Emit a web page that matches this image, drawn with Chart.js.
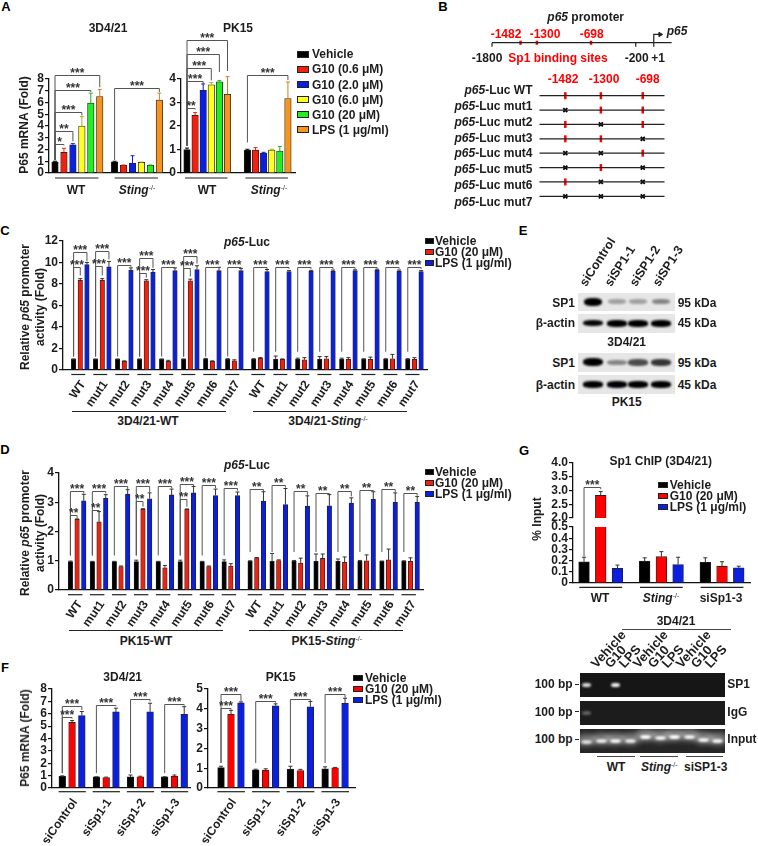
<!DOCTYPE html>
<html>
<head>
<meta charset="utf-8">
<script src="https://cdn.jsdelivr.net/npm/chart.js@4"></script>
<style>
html, body { margin: 0; background: #fff; }
#page { position: relative; width: 758px; height: 846px; overflow: hidden; background: #fff;
  font: bold 12px 'Liberation Sans', Arial, sans-serif; color: #1c1c1c; }
#page canvas { position: absolute; }
.t { position: absolute; white-space: nowrap; transform: translate(-50%, -50%); line-height: 1; }
.t sup { font-size: 7px; line-height: 0; vertical-align: 4px; font-weight: normal; }
.rot { position: absolute; white-space: nowrap; transform-origin: 0 100%; line-height: 1; }
.box { position: absolute; }
</style>
</head>
<body>
<div id="page"></div>
<script>
const BLACK = '#000000', RED = '#f4200f', BLUE = '#0a1fe0', YELLOW = '#ffff22', GREEN = '#22ee22', ORANGE = '#f7941d';

// panel A, one row per treatment, columns WT / Sting-/-
const A_LEGEND = ['Vehicle', 'G10 (0.6 μM)', 'G10 (2.0 μM)', 'G10 (6.0 μM)', 'G10 (20  μM)', 'LPS (1 μg/ml)'];
const A1_VALUES = [[0.95, 0.95], [1.75, 0.65], [2.4, 0.85], [4.0, 0.9], [5.95, 0.65], [6.5, 6.2]];
const A1_ERRORS = [[0.05, 0.05], [0.35, 0.03], [0.1, 0.62], [0.8, 0.03], [0.85, 0.03], [0.6, 0.6]];
const A2_VALUES = [[1.0, 0.98], [2.45, 0.98], [3.52, 0.85], [3.75, 0.98], [3.88, 0.93], [3.35, 3.17]];
const A2_ERRORS = [[0.06, 0.03], [0.12, 0.1], [0.27, 0.03], [0.1, 0.03], [0.05, 0.2], [0.75, 0.7]];
// brackets: group, right bar, height, right end, left end, stars
const A1_BRACKETS = [[0, 5, 8.3, 7.3, 1.1, '***'], [0, 4, 7.06, 6.9, 1.1, '***'], [0, 3, 5.17, 4.9, 1.1, '***'],
  [0, 2, 3.56, 2.7, 1.1, '**'], [0, 1, 2.43, 2.35, 1.1, '*'], [1, 5, 7.23, 6.9, 1.1, '***']];
const A2_BRACKETS = [[0, 5, 5.65, 4.34, 1.15, '***'], [0, 4, 5.08, 4.3, 1.15, '***'], [0, 3, 4.48, 3.94, 1.15, '***'],
  [0, 2, 3.91, 3.73, 1.15, '***'], [0, 1, 2.78, 2.7, 1.15, '**'], [1, 5, 4.15, 3.95, 1.3, '***']];

// panels C and D, 8 constructs in WT then 8 in Sting-/-
const MUT_LABELS = ['WT', 'mut1', 'mut2', 'mut3', 'mut4', 'mut5', 'mut6', 'mut7',
  'WT', 'mut1', 'mut2', 'mut3', 'mut4', 'mut5', 'mut6', 'mut7'];
const TRIPLE_LEGEND = ['Vehicle', 'G10 (20 μM)', 'LPS (1 μg/ml)'];
const C_VEHICLE = [1, 1, 1, 1, 1, 1, 1.03, 1, 1, 1, 1, 1, 1, 1, 1, 1];
const C_G10 = [8.35, 8.35, 0.8, 8.3, 0.8, 8.3, 0.8, 0.85, 1.1, 1.0, 0.95, 1.05, 1.0, 1.0, 1.05, 1.0];
const C_LPS = [9.8, 9.6, 9.3, 9.1, 9.25, 9.35, 9.25, 9.25, 9.15, 9.15, 9.2, 9.2, 9.25, 9.3, 9.2, 9.15];
const C_VEHICLE_ERR = [0.03, 0.03, 0.03, 0.03, 0.03, 0.03, 0.05, 0.05, 0.05, 0.3, 0.1, 0.25, 0.1, 0.05, 0.05, 0.05];
const C_G10_ERR = [0.15, 0.15, 0.05, 0.1, 0.1, 0.15, 0.05, 0.1, 0.05, 0.03, 0.2, 0.2, 0.15, 0.2, 0.4, 0.15];
const C_LPS_ERR = [0.2, 0.5, 0.2, 0.25, 0.25, 0.35, 0.3, 0.2, 0.2, 0.1, 0.07, 0.1, 0.07, 0.07, 0.1, 0.1];
const C_BRACKETS = [[0, 2, 11.0, 10.1, 1.25, '***'], [0, 1, 9.55, 8.8, 1.25, '***'], [1, 2, 11.07, 10.3, 1.25, '***'],
  [1, 1, 9.67, 8.8, 1.25, '***'], [2, 2, 9.77, 9.6, 1.25, '***'], [3, 2, 10.4, 9.5, 1.25, '***'], [3, 1, 9.0, 8.6, 1.25, '***'],
  [4, 2, 9.6, 9.5, 1.25, '***'], [5, 2, 10.6, 9.9, 1.25, '***'], [5, 1, 9.45, 8.7, 1.25, '***'], [6, 2, 9.6, 9.5, 1.25, '***'],
  [7, 2, 9.55, 9.5, 1.25, '***'], [8, 2, 9.55, 9.4, 1.7, '***'], [9, 2, 9.55, 9.4, 1.7, '***'], [10, 2, 9.55, 9.4, 1.7, '***'],
  [11, 2, 9.55, 9.4, 1.7, '***'], [12, 2, 9.55, 9.4, 1.7, '***'], [13, 2, 9.55, 9.4, 1.7, '***'], [14, 2, 9.55, 9.4, 1.7, '***'],
  [15, 2, 9.55, 9.4, 1.7, '***']];
const D_VEHICLE = [0.97, 0.97, 0.97, 0.97, 0.97, 0.97, 0.97, 0.97, 0.98, 0.98, 0.98, 0.98, 0.98, 0.98, 0.98, 0.98];
const D_G10 = [2.42, 2.33, 0.8, 2.76, 0.76, 2.76, 0.8, 0.82, 1.1, 1.01, 0.92, 1.08, 0.95, 1.0, 1.03, 0.98];
const D_LPS = [3.05, 3.13, 3.28, 3.12, 3.25, 3.32, 3.23, 3.23, 3.04, 2.92, 2.87, 2.88, 2.97, 3.1, 3.0, 3.0];
const D_VEHICLE_ERR = [0.02, 0.01, 0.01, 0.05, 0.01, 0.05, 0.01, 0.06, 0.02, 0.27, 0.03, 0.25, 0.08, 0.03, 0.01, 0.02];
const D_G10_ERR = [0.01, 0.35, 0.02, 0.02, 0.08, 0.01, 0.02, 0.08, 0.01, 0.02, 0.17, 0.15, 0.18, 0.2, 0.37, 0.12];
const D_LPS_ERR = [0.22, 0.13, 0.15, 0.2, 0.2, 0.22, 0.22, 0.12, 0.32, 0.55, 0.35, 0.38, 0.18, 0.26, 0.32, 0.2];
const D_BRACKETS = [[0, 2, 3.37, 3.3, 1.18, '***'], [0, 1, 2.57, 2.45, 1.18, '**'], [1, 2, 3.37, 3.3, 1.18, '***'],
  [1, 1, 2.72, 2.7, 1.18, '**'], [2, 2, 3.57, 3.45, 1.18, '***'], [3, 2, 3.57, 3.35, 1.18, '***'], [3, 1, 3.04, 2.85, 1.18, '**'],
  [4, 2, 3.57, 3.48, 1.18, '***'], [5, 2, 3.63, 3.55, 1.18, '***'], [5, 1, 3.12, 2.85, 1.18, '**'], [6, 2, 3.58, 3.48, 1.18, '***'],
  [7, 2, 3.49, 3.4, 1.18, '***'], [8, 2, 3.44, 3.38, 1.3, '**'], [9, 2, 3.6, 3.5, 1.3, '**'], [10, 2, 3.39, 3.25, 1.3, '**'],
  [11, 2, 3.33, 3.28, 1.3, '**'], [12, 2, 3.38, 3.2, 1.3, '**'], [13, 2, 3.43, 3.38, 1.3, '**'], [14, 2, 3.46, 3.35, 1.3, '**'],
  [15, 2, 3.33, 3.23, 1.3, '**']];

// panel F
const F_LABELS = ['siControl', 'siSp1-1', 'siSp1-2', 'siSp1-3'];
const F1_VEHICLE = [0.95, 0.9, 0.9, 0.9], F1_G10 = [5.3, 0.85, 0.9, 0.95], F1_LPS = [5.85, 6.15, 6.15, 5.95];
const F1_VEHICLE_ERR = [0.03, 0.01, 0.15, 0.01], F1_G10_ERR = [0.15, 0.03, 0.05, 0.1], F1_LPS_ERR = [0.33, 0.3, 0.7, 0.62];
const F2_VEHICLE = [1.03, 0.92, 0.95, 0.97], F2_G10 = [3.72, 0.9, 0.88, 1.02], F2_LPS = [4.3, 4.15, 4.1, 4.28];
const F2_VEHICLE_ERR = [0.07, 0.03, 0.15, 0.1], F2_G10_ERR = [0.2, 0.07, 0.06, 0.02], F2_LPS_ERR = [0.05, 0.1, 0.27, 0.25];
const F1_BRACKETS = [[0, 2, 6.66, 6.3, 1.2, '***'], [0, 1, 5.72, 5.6, 1.2, '***'], [1, 2, 6.68, 6.6, 1.2, '***'],
  [2, 2, 7.22, 7.0, 1.2, '***'], [3, 2, 6.77, 6.65, 1.2, '***']];
const F2_BRACKETS = [[0, 2, 4.73, 4.4, 1.26, '***'], [0, 1, 4.06, 3.95, 1.26, '***'], [1, 2, 4.41, 4.3, 1.26, '***'],
  [2, 2, 4.48, 4.4, 1.26, '***'], [3, 2, 4.75, 4.55, 1.26, '***']];

// panel G
const G_VEHICLE = [0.19, 0.195, 0.185], G_G10 = [2.82, 0.235, 0.15], G_LPS = [0.13, 0.165, 0.135];
const G_VEHICLE_ERR = [0.04, 0.03, 0.04], G_G10_ERR = [0.14, 0.045, 0.04], G_LPS_ERR = [0.03, 0.065, 0.015];
const G_BRACKETS = [[0, 1, 3.13, 3.05, 0.6, '***']];
const GEL_LANES = ['Vehicle', 'G10', 'LPS', 'Vehicle', 'G10', 'LPS', 'Vehicle', 'G10', 'LPS'];
const GEL_SP1 = [0.85, 0, 0.95, 0, 0, 0, 0, 0, 0, 0];
const GEL_IGG = [0.3, 0, 0, 0, 0, 0, 0, 0, 0, 0];
const GEL_INPUT = [0.85, 0.9, 0.95, 0.9, 1, 0.95, 1, 0.95, 0.95, 0.95];

// panel B, sites are in bp from the start site
const SP1_SITES = [-1482, -1300, -698];
const PROMOTER_TICKS = [-1800, -200];
const LUC_ROWS = ['WT', 'mut1', 'mut2', 'mut3', 'mut4', 'mut5', 'mut6', 'mut7'];
const LUC_INTACT = [[1, 1, 1], [0, 1, 1], [1, 0, 1], [1, 1, 0], [0, 0, 1], [0, 1, 0], [1, 0, 0], [0, 0, 0]];

// panel E, band strength per lane
const E_LANES = ['siControl', 'siSP1-1', 'siSP1-2', 'siSP1-3'];
const E_SP1_3D4 = [1, 0.18, 0.18, 0.3];
const E_ACTIN_3D4 = [0.85, 1, 0.95, 1];
const E_SP1_PK15 = [1, 0.3, 0.55, 0.65];
const E_ACTIN_PK15 = [0.9, 0.95, 1, 0.9];

Chart.defaults.font.family = "'Liberation Sans', Arial, sans-serif";
Chart.defaults.font.weight = 'bold';
Chart.defaults.font.size = 12;
Chart.defaults.color = '#1c1c1c';
Chart.defaults.animation = false;

const page = document.getElementById('page');

function txt(html, x, y, opts = {}) {
    const d = document.createElement('div');
    d.className = 't';
    d.innerHTML = html;
    d.style.left = x + 'px';
    d.style.top = y + 'px';
    if (opts.color) d.style.color = opts.color;
    if (opts.size) d.style.fontSize = opts.size + 'px';
    if (opts.rotate) d.style.transform = `translate(-50%, -50%) rotate(${opts.rotate}deg)`;
    if (opts.left) d.style.transform = 'translate(0, -50%)';
    if (opts.right) d.style.transform = 'translate(-100%, -50%)';
    page.appendChild(d);
    return d;
}

function rotTxt(text, x, y, angle, size) {
    const d = document.createElement('div');
    d.className = 'rot';
    d.textContent = text;
    d.style.left = x + 'px';
    d.style.top = (y - size) + 'px';
    d.style.fontSize = size + 'px';
    d.style.transform = `rotate(${-angle}deg)`;
    page.appendChild(d);
}

function box(x, y, w, h, color, extra = '') {
    const d = document.createElement('div');
    d.className = 'box';
    d.style.cssText = `left:${x}px;top:${y}px;width:${w}px;height:${h}px;background:${color};${extra}`;
    page.appendChild(d);
    return d;
}

function legend(labels, colors, x, ys, swW, swH, textX) {
    labels.forEach((label, i) => {
        box(x, ys[i] - swH / 2, swW, swH, colors[i], 'outline:0.5px solid #222;');
        txt(label, textX, ys[i], { left: true });
    });
}

// whiskers, brackets and group lines, all placed through the chart scales
function panelMarks(cfg, xOf) {
    return {
        id: 'panelMarks',
        afterDatasetsDraw(chart) {
            const ctx = chart.ctx, xs = chart.scales.x, ys = chart.scales.y;
            const px = (g, b) => xs.getPixelForValue(xOf(g, b));
            ctx.save();
            cfg.series.forEach((vals, b) => {
                vals.forEach((v, g) => {
                    const hi = v + cfg.errors[b][g];
                    if (hi < ys.min || v > ys.max) return;
                    const x = px(g, b), top = ys.getPixelForValue(hi), start = ys.getPixelForValue(Math.max(v, ys.min));
                    ctx.strokeStyle = cfg.errColors ? cfg.errColors[b] : '#333';
                    ctx.lineWidth = 1;
                    ctx.beginPath();
                    ctx.moveTo(x, start);
                    ctx.lineTo(x, top);
                    ctx.moveTo(x - 2, top);
                    ctx.lineTo(x + 2, top);
                    ctx.stroke();
                });
            });
            (cfg.brackets || []).forEach(([g, to, y, rEnd, lEnd, stars]) => {
                const x0 = px(g, 0), x1 = px(g, to), yy = Math.round(ys.getPixelForValue(y)) + 0.5;
                ctx.strokeStyle = '#555';
                ctx.lineWidth = 1;
                ctx.beginPath();
                ctx.moveTo(x0, ys.getPixelForValue(lEnd));
                ctx.lineTo(x0, yy);
                ctx.lineTo(x1, yy);
                ctx.lineTo(x1, ys.getPixelForValue(rEnd));
                ctx.stroke();
                ctx.fillStyle = '#333';
                ctx.font = "bold 12px 'Liberation Sans', Arial";
                ctx.textAlign = 'center';
                ctx.textBaseline = 'alphabetic';
                ctx.fillText(stars, (x0 + x1) / 2, yy + 1);
            });
            if (cfg.under) {
                const n = cfg.series[0].length, last = cfg.series.length - 1;
                const y = chart.chartArea.bottom + cfg.under.dy;
                ctx.strokeStyle = '#222';
                ctx.lineWidth = 1.2;
                for (let g = 0; g < n; g++) {
                    ctx.beginPath();
                    ctx.moveTo(px(g, 0) + cfg.under.l, y);
                    ctx.lineTo(px(g, last) + cfg.under.r, y);
                    ctx.stroke();
                }
            }
            ctx.restore();
        },
    };
}

function barPanel(cfg) {
    const mL = 45, mR = 4, mT = cfg.mT || 14, mB = cfg.mB || 10;
    const w = cfg.r - cfg.l, h = cfg.b - cfg.t;
    const canvas = document.createElement('canvas');
    canvas.width = Math.round(w + mL + mR);
    canvas.height = Math.round(h + mT + mB);
    canvas.style.left = (cfg.l - mL) + 'px';
    canvas.style.top = (cfg.t - mT) + 'px';
    page.appendChild(canvas);

    const xOf = (g, b) => g * cfg.step + b + (cfg.sectionAt !== undefined && g >= cfg.sectionAt ? cfg.sectionGap : 0);
    const middle = (cfg.series.length - 1) / 2;

    new Chart(canvas, {
        type: 'bar',
        data: {
            datasets: cfg.series.map((vals, b) => ({
                data: vals.map((v, g) => ({ x: xOf(g, b), y: v })),
                grouped: false,
                backgroundColor: cfg.colors[b],
                borderColor: '#222',
                borderWidth: 0.8,
                barPercentage: 1,
                categoryPercentage: 1,
                maxBarThickness: cfg.barW,
            })),
        },
        options: {
            responsive: false,
            events: [],
            layout: { padding: { top: mT, right: mR, left: 0, bottom: 0 } },
            plugins: { legend: { display: false }, tooltip: { enabled: false } },
            scales: {
                x: {
                    type: 'linear',
                    offset: false,
                    min: (cfg.l - cfg.first) / cfg.slot,
                    max: (cfg.r - cfg.first) / cfg.slot,
                    border: { display: !cfg.noBase, color: '#111', width: 1.3 },
                    grid: { display: true, drawOnChartArea: false, drawTicks: false },
                    afterBuildTicks: (s) => {
                        s.ticks = cfg.labels ? cfg.labels.map((_, g) => ({ value: xOf(g, middle) })) : [];
                    },
                    afterFit: (s) => {
                        s.height = mB;
                        s.paddingLeft = 0;
                        s.paddingRight = 0;
                    },
                    ticks: {
                        display: !!cfg.labels,
                        autoSkip: false,
                        minRotation: 55,
                        maxRotation: 55,
                        padding: 8,
                        labelOffset: 3,
                        callback: (v, i) => (cfg.labels ? cfg.labels[i] : ''),
                    },
                },
                y: {
                    min: cfg.yMin || 0,
                    max: cfg.yMax,
                    border: { color: '#111', width: 1.3 },
                    grid: { display: true, drawOnChartArea: false, drawTicks: true, tickLength: 4, tickColor: '#111', lineWidth: 1.2 },
                    afterFit: (s) => {
                        s.width = mL;
                        s.paddingTop = 0;
                        s.paddingBottom = 0;
                    },
                    ticks: {
                        stepSize: cfg.yStep,
                        autoSkip: false,
                        padding: 1,
                        callback: cfg.yFormat || ((v) => v),
                    },
                },
            },
        },
        plugins: [panelMarks(cfg, xOf)],
    });
}

// promoter maps are plain scatter charts on hidden scales
function diagram(rect, xMin, xMax, yMin, yMax, reverse, datasets) {
    const canvas = document.createElement('canvas');
    canvas.width = rect.w;
    canvas.height = rect.h;
    canvas.style.left = rect.x + 'px';
    canvas.style.top = rect.y + 'px';
    page.appendChild(canvas);
    new Chart(canvas, {
        type: 'scatter',
        data: { datasets: datasets.map((d) => ({ clip: false, ...d })) },
        options: {
            responsive: false,
            events: [],
            plugins: { legend: { display: false }, tooltip: { enabled: false } },
            scales: {
                x: { type: 'linear', display: false, min: xMin, max: xMax },
                y: { type: 'linear', display: false, min: yMin, max: yMax, reverse },
            },
        },
    });
}

function seg(points, color, width) {
    return { data: points.map(([x, y]) => ({ x, y })), showLine: true, pointRadius: 0, borderColor: color, borderWidth: width };
}

const STING = '<i>Sting</i><sup>-/-</sup>';
const P65 = '<i>p65</i>';
const A_COLORS = [BLACK, RED, BLUE, YELLOW, GREEN, ORANGE];
const A_WHISKERS = [BLACK, RED, BLUE, '#a8a83a', '#2aa82a', '#c9801f'];
const TRIPLE_COLORS = [BLACK, RED, BLUE];
const PURE_COLORS = [BLACK, '#ff0000', BLUE];

// ---- panel letters
[['A', 6, 6], ['B', 443, 6], ['C', 5, 230], ['D', 5, 449], ['E', 523, 230], ['F', 5, 667], ['G', 524, 450]].forEach(([s, x, y]) => txt(s, x, y, { size: 13, color: '#000' }));

// ---- panel A
barPanel({ series: A1_VALUES, errors: A1_ERRORS, errColors: A_WHISKERS, brackets: A1_BRACKETS, colors: A_COLORS,
    l: 49, r: 169, t: 78.5, b: 172.7, first: 55, slot: 8.95, step: 6.66, barW: 6.5, yMax: 8, yStep: 1, mT: 24,
    under: { dy: 5, l: 0, r: -1.3 } });
barPanel({ series: A2_VALUES, errors: A2_ERRORS, errColors: A_WHISKERS, brackets: A2_BRACKETS, colors: A_COLORS,
    l: 181, r: 295, t: 78.7, b: 172.7, first: 187, slot: 8.1, step: 7.46, barW: 6.5, yMax: 4, yStep: 1, mT: 60,
    under: { dy: 5, l: -2, r: 0 } });
txt('3D4/21', 108, 28);
txt('PK15', 238, 28);
txt('P65 mRNA (Fold)', 24, 125, { rotate: -90 });
txt('WT', 76, 190);
txt(STING, 137, 190);
txt('WT', 207, 190);
txt(STING, 269, 190);
legend(A_LEGEND, A_COLORS, 298, [54.3, 69.3, 84.7, 99.7, 114.7, 129.7], 10, 5, 312);

// ---- panel B
const mainY = 0;
diagram({ x: 487, y: 25, w: 190, h: 30 }, -1800, 204, -11, 19, false, [
    seg([[-1800, mainY], [200, mainY]], '#222', 1.2),
    ...PROMOTER_TICKS.map((t) => seg([[t, mainY], [t, -6]], '#222', 1.2)),
    seg([[1, -6], [1, 12.3], [72, 12.3]], '#222', 1.2),
    { data: [{ x: 72, y: 12.3 }], pointStyle: 'triangle', rotation: 90, pointRadius: 2.5, backgroundColor: '#222', borderColor: '#222' },
    ...SP1_SITES.map((s) => seg([[s, 3], [s, -3]], '#ff0000', 2.5)),
]);
txt(P65 + ' promoter', 585.7, 16.7);
txt('-1482', 506, 34.3, { color: '#ff0000' });
txt('-1300', 545, 34.3, { color: '#ff0000' });
txt('-698', 591.7, 34.3, { color: '#ff0000' });
txt('-1800', 487, 58);
txt('Sp1 binding sites', 558, 58, { color: '#ff0000' });
txt('-200', 636.7, 58);
txt('+1', 658, 58);
txt(P65, 677, 31);

// schematic (not to scale) position of the three sites on the reporter rows
const LUC_SITE_X = [0, 0.85, 1.85];
const intact = [], mutated = [];
LUC_INTACT.forEach((row, r) => row.forEach((on, i) => (on ? intact : mutated).push({ x: LUC_SITE_X[i], y: r })));
diagram({ x: 533, y: 82, w: 138, h: 128 }, -0.617, 2.37, -0.5, 7.5, true, [
    ...LUC_ROWS.map((_, r) => seg([[-0.617, r], [2.37, r]], '#222', 1.2)),
    { data: intact, pointStyle: 'line', rotation: 90, pointRadius: 3.5, borderColor: '#ff0000', borderWidth: 2.5 },
    { data: mutated, pointStyle: 'crossRot', pointRadius: 2.8, borderColor: '#000', borderWidth: 1.8 },
]);
const rowY = [90, 106.7, 122, 138, 153.7, 169.7, 185.3, 202];
LUC_ROWS.forEach((name, r) => txt(`${P65}-Luc ${name}`, 532.5, rowY[r] - 0.5, { right: true }));
txt('-1482', 563, 79, { color: '#ff0000' });
txt('-1300', 604, 79, { color: '#ff0000' });
txt('-698', 647.7, 79, { color: '#ff0000' });

// ---- panel C
barPanel({ series: [C_VEHICLE, C_G10, C_LPS], errors: [C_VEHICLE_ERR, C_G10_ERR, C_LPS_ERR], brackets: C_BRACKETS, colors: TRIPLE_COLORS,
    labels: MUT_LABELS, l: 62.7, r: 426.7, t: 241, b: 370, first: 73.3, slot: 6.67, step: 3.3, sectionAt: 8, sectionGap: 0.6, barW: 4.5,
    yMax: 12, yStep: 2, mB: 40, under: { dy: 4.5, l: -2.3, r: -1.7 } });
txt(P65 + '-Luc', 247, 241.7);
txt('Relative ' + P65 + ' promoter', 25, 307, { rotate: -90 });
txt('activity (Fold)', 40, 307, { rotate: -90 });
box(72, 410.5, 154, 1.2, '#222');
box(252.7, 410.5, 154, 1.2, '#222');
txt('3D4/21-WT', 148, 421);
txt('3D4/21-' + STING, 328, 421);
legend(TRIPLE_LEGEND, TRIPLE_COLORS, 426, [241, 251.7, 263], 6.5, 4, 435);

// ---- panel D
barPanel({ series: [D_VEHICLE, D_G10, D_LPS], errors: [D_VEHICLE_ERR, D_G10_ERR, D_LPS_ERR], brackets: D_BRACKETS, colors: TRIPLE_COLORS,
    labels: MUT_LABELS, l: 59.3, r: 423, t: 472.7, b: 589.3, first: 70.7, slot: 6.67, step: 3.29, sectionAt: 8, sectionGap: 0.6, barW: 4.5,
    yMax: 4, yStep: 1, mB: 40, under: { dy: 4.7, l: -2.4, r: -1.3 } });
txt(P65 + '-Luc', 247, 465);
txt('Relative ' + P65 + ' promoter', 25, 533, { rotate: -90 });
txt('activity (Fold)', 40, 533, { rotate: -90 });
box(69, 630.2, 153.7, 1.2, '#222');
box(249.3, 630.2, 153.7, 1.2, '#222');
txt('PK15-WT', 146, 640.7);
txt('PK15-' + STING, 326.7, 640.7);
legend(TRIPLE_LEGEND, TRIPLE_COLORS, 426, [472, 483, 494], 6.5, 4, 435);

// ---- panel E
function blot(x, y, w, h, lanes, values, bandW, bandH) {
    const b = box(x, y, w, h, '#e6e6e6', 'overflow:hidden;');
    values.forEach((v, i) => {
        const d = document.createElement('div');
        d.className = 'box';
        const bh = bandH * (0.5 + 0.5 * v);
        d.style.cssText = `left:${lanes[i] - x - bandW / 2}px;top:${h / 2 - bh / 2}px;width:${bandW}px;height:${bh}px;` +
            `background:#000;opacity:${Math.min(1, 0.12 + v)};border-radius:40%;filter:blur(1px);`;
        b.appendChild(d);
    });
}
const eLanes = [593.3, 616.7, 638.3, 660.7];
blot(578.3, 292.7, 96.7, 18.3, eLanes, E_SP1_3D4, 18, 8);
blot(578.3, 314.3, 96.7, 18.4, eLanes, E_ACTIN_3D4, 20, 6.5);
blot(578.3, 353.3, 96.7, 18.4, eLanes, E_SP1_PK15, 20, 8);
blot(578.3, 375.3, 96.7, 18.4, eLanes, E_ACTIN_PK15, 20, 6.5);
[588.3, 613.3, 638.3, 661].forEach((x, i) => rotTxt(E_LANES[i], x, 288.3, 57, 12.5));
[[302.7, 'SP1', '95 kDa'], [323, 'β-actin', '45 kDa'], [362.7, 'SP1', '95 kDa'], [384.7, 'β-actin', '45 kDa']].forEach(([y, a, b]) => {
    txt(a, 575, y, { right: true });
    txt(b, 677.7, y, { left: true });
});
txt('3D4/21', 626.7, 342.3);
txt('PK15', 626.7, 402.3);

// ---- panel F
barPanel({ series: [F1_VEHICLE, F1_G10, F1_LPS], errors: [F1_VEHICLE_ERR, F1_G10_ERR, F1_LPS_ERR], brackets: F1_BRACKETS, colors: PURE_COLORS,
    labels: F_LABELS, l: 51.7, r: 190, t: 689, b: 788.3, first: 62, slot: 9.8, step: 3.49, barW: 6.7, yMax: 8, yStep: 1, mB: 55,
    under: { dy: 3.7, l: -3.7, r: 4 } });
barPanel({ series: [F2_VEHICLE, F2_G10, F2_LPS], errors: [F2_VEHICLE_ERR, F2_G10_ERR, F2_LPS_ERR], brackets: F2_BRACKETS, colors: PURE_COLORS,
    labels: F_LABELS, l: 208.3, r: 355, t: 689, b: 788.3, first: 221.3, slot: 9.95, step: 3.48, barW: 6.7, yMax: 5, yStep: 1, mB: 55,
    under: { dy: 3.7, l: -3.7, r: 4 } });
txt('3D4/21', 122.7, 676.7);
txt('PK15', 280.7, 676.7);
txt('P65 mRNA (Fold)', 25, 738.3, { rotate: -90 });
legend(TRIPLE_LEGEND, PURE_COLORS, 354, [677.7, 689, 700], 7.7, 4, 365);

// ---- panel G, broken axis is two charts over the same data
const gSeries = [G_VEHICLE, G_G10, G_LPS], gErrors = [G_VEHICLE_ERR, G_G10_ERR, G_LPS_ERR];
const gFormat = (v) => (v === 0 ? '0' : v.toFixed(1));
barPanel({ series: gSeries, errors: gErrors, brackets: G_BRACKETS, colors: PURE_COLORS, noBase: true,
    l: 572.7, r: 749.3, t: 463.3, b: 518.3, first: 583.7, slot: 16.67, step: 3.63, barW: 10.7, yMin: 2, yMax: 4, yStep: 0.5,
    yFormat: gFormat, mB: 50 });
barPanel({ series: gSeries, errors: gErrors, colors: PURE_COLORS,
    l: 572.7, r: 749.3, t: 527.3, b: 583, first: 583.7, slot: 16.67, step: 3.63, barW: 10.7, yMax: 0.5, yStep: 0.1,
    yFormat: gFormat, under: { dy: 4.3, l: -4.7, r: 4.7 } });
txt('Sp1 ChIP (3D4/21)', 660.7, 460.7);
txt('% Input', 537.3, 519, { rotate: -90 });
txt('WT', 600, 598.3);
txt(STING, 661, 598.3);
txt('siSp1-3', 721, 598.3);
legend(TRIPLE_LEGEND, PURE_COLORS, 658.7, [484.7, 495.7, 507], 8.3, 4, 669.7);

// ---- gels
function gel(x, y, w, h, laneX, values, bg, lifts) {
    const b = box(x, y, w, h, bg, 'overflow:hidden;');
    values.forEach((v, i) => {
        if (!v) return;
        const d = document.createElement('div');
        d.className = 'box';
        const lift = lifts ? lifts[i] : 0;
        const bw = lifts ? 11 : 9;
        d.style.cssText = `left:${laneX[i] - x - bw / 2}px;top:${h / 2 - 2 - lift}px;width:${bw}px;height:4px;background:#fff;opacity:${v};` +
            `border-radius:50%;filter:blur(0.8px);box-shadow:0 ${lifts ? -2 : 0}px ${lifts ? 5 : 2}px ${lifts ? 4 : 0}px rgba(255,255,255,${lifts ? 0.45 : 0.2});`;
        b.appendChild(d);
    });
}
const gelX = [586.7, 601, 615.7, 630.7, 645, 660, 674.3, 689, 703, 717.3];
gel(580, 672.7, 145, 24.6, gelX, GEL_SP1, '#161616');
gel(580, 701.3, 145, 23.7, gelX, GEL_IGG, '#1c1c1c');
gel(580, 729.3, 145, 24, gelX, GEL_INPUT, '#262626', [-1, 0, 0, 0.5, 4, 3, 4, 4, 1, 0]);
[[684.3, 'SP1'], [711.7, 'IgG'], [739.3, 'Input']].forEach(([y, s]) => {
    txt('100 bp', 572.7, y, { right: true });
    box(574.5, y - 0.5, 4.5, 1.1, '#222');
    txt(s, 727.3, y, { left: true });
});
[597.7, 611.7, 626, 640, 655, 669, 683.3, 698, 711.7].forEach((x, i) => rotTxt(GEL_LANES[i], x, 670, 48, 13));
txt('3D4/21', 676, 621);
box(621.7, 629.2, 109.3, 1.2, '#444');
box(597.3, 755.8, 37.7, 1.2, '#444');
box(640, 755.8, 37.7, 1.2, '#444');
box(685.7, 755.8, 37.6, 1.2, '#444');
txt('WT', 616, 766.7);
txt(STING, 659.3, 766.7);
txt('siSP1-3', 705.7, 766.7);
</script>
</body>
</html>
